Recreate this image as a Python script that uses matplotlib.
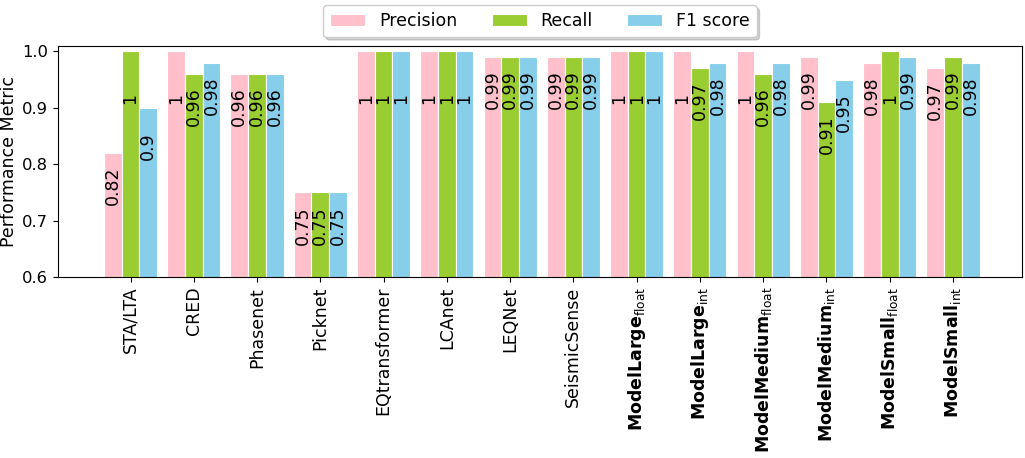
import matplotlib

matplotlib.use("Agg")

import matplotlib.pyplot as plt
import numpy as np

models = [
    "STA/LTA",
    "CRED",
    "Phasenet",
    "Picknet",
    "EQtransformer",
    "LCAnet",
    "LEQNet",
    "SeismicSense",
    r"$\mathbf{ModelLarge}_{\mathrm{float}}$",
    r"$\mathbf{ModelLarge}_{\mathrm{int}}$",
    r"$\mathbf{ModelMedium}_{\mathrm{float}}$",
    r"$\mathbf{ModelMedium}_{\mathrm{int}}$",
    r"$\mathbf{ModelSmall}_{\mathrm{float}}$",
    r"$\mathbf{ModelSmall}_{\mathrm{int}}$",
]
precision = [0.82, 1, 0.96, 0.75, 1, 1, 0.99, 0.99, 1, 1, 1, 0.99, 0.98, 0.97]
recall = [1, 0.96, 0.96, 0.75, 1, 1, 0.99, 0.99, 1, 0.97, 0.96, 0.91, 1, 0.99]
f1_score = [0.9, 0.98, 0.96, 0.75, 1, 1, 0.99, 0.99, 1, 0.98, 0.98, 0.95, 0.99, 0.98]

series = [
    ("Precision", precision, "pink"),
    ("Recall", recall, "yellowgreen"),
    ("F1 score", f1_score, "skyblue"),
]

plt.rcParams["font.size"] = 12.5

fig = plt.figure(figsize=(10.25, 4.58), dpi=100)
ax = fig.add_axes([0.0566, 0.395, 0.9404, 0.505])

x = np.arange(len(models))
width = 0.28
for i, (label, values, color) in enumerate(series):
    bars = ax.bar(
        x + (i - 1) * width,
        values,
        width,
        label=label,
        color=color,
        edgecolor="white",
        linewidth=0.8,
    )
    ax.bar_label(bars, labels=[f"{v:g}" for v in values], rotation=90,
                 padding=-37.5, fontsize=12.5)

ax.set_xticks(x)
ax.set_xticklabels(models, rotation=90)
ax.tick_params(axis="y", labelsize=11.8)
ax.set_xlim(-1.146, len(models) - 1 + 1.09)
ax.set_ylim(0.6, 1.01)
ax.set_yticks([0.6, 0.7, 0.8, 0.9, 1.0])
ax.set_ylabel("Performance Metric", fontsize=12.5, labelpad=3)

ax.legend(
    loc="lower center",
    bbox_to_anchor=(0.5, 1.0),
    ncol=3,
    shadow={"color": "0.6", "alpha": 0.45},
)

fig.savefig("out.png")
plt.close(fig)
